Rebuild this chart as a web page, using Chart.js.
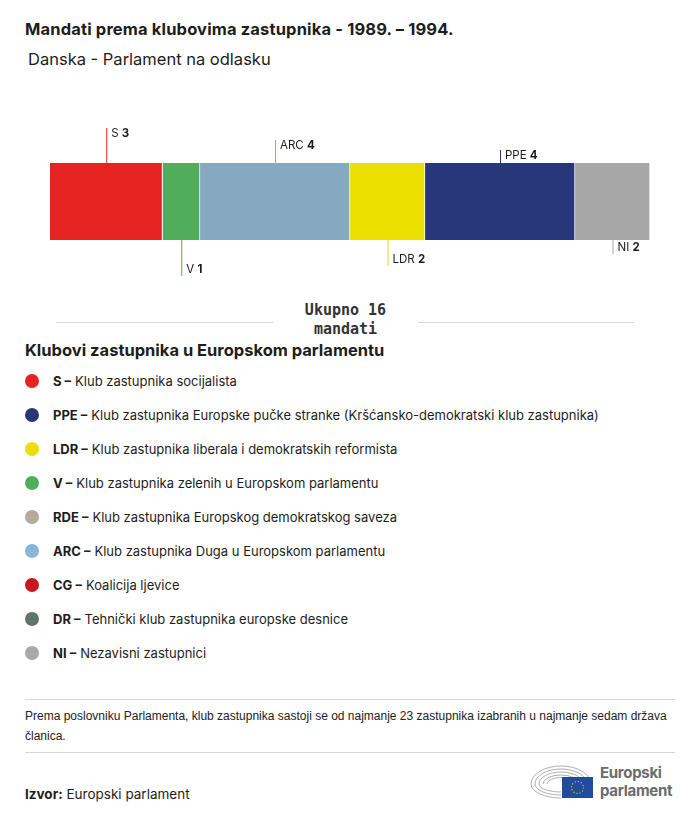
<!DOCTYPE html>
<html>
<head>
<meta charset="utf-8">
<script src="https://cdn.jsdelivr.net/npm/chart.js@4.4.0/dist/chart.umd.min.js"></script>
<style>
  body { margin: 0; background: #fff; font-family: "Inter", sans-serif; color: #1d1d1b; }
  #page { position: relative; width: 700px; height: 820px; overflow: hidden; }
  .abs { position: absolute; }
  #title { left: 25px; top: 19px; font-size: 16.5px; font-weight: 700; letter-spacing: 0.15px; }
  #subtitle { left: 28px; top: 49px; font-size: 16.5px; }
  #chartWrap { left: 0; top: 100px; width: 700px; height: 190px; }
  .rule { height: 1px; background: #d6d6d6; }
  #total { left: 263px; width: 165px; top: 301px; text-align: center; font-family: "DejaVu Sans Mono", monospace; font-weight: 700; font-size: 15px; line-height: 19px; color: #333; }
  #legTitle { left: 25px; top: 340px; font-size: 16.5px; font-weight: 700; }
  #legend { left: 25px; top: 373px; }
  .item { height: 34px; display: flex; align-items: flex-start; font-size: 13px; }
  .dot { width: 14px; height: 14px; border-radius: 50%; margin: 1px 14px 0 0; }
  .item b { margin-right: 4px; }
  #note { left: 25px; top: 706px; width: 650px; font-family: "Liberation Sans Narrow", "Liberation Sans", sans-serif; font-size: 12px; line-height: 20px; color: #222; }
  #source { left: 25px; top: 786px; font-size: 13.5px; }
</style>
</head>
<body>
<div id="page">
  <div id="title" class="abs">Mandati prema klubovima zastupnika - 1989. – 1994.</div>
  <div id="subtitle" class="abs">Danska - Parlament na odlasku</div>
  <div id="chartWrap" class="abs"><canvas id="bar"></canvas></div>
  <div class="abs rule" style="left:56px;top:322px;width:217px"></div>
  <div class="abs rule" style="left:418px;top:322px;width:216px"></div>
  <div id="total" class="abs"></div>
  <div id="legTitle" class="abs">Klubovi zastupnika u Europskom parlamentu</div>
  <div id="legend" class="abs"></div>
  <div class="abs rule" style="left:25px;top:699px;width:650px"></div>
  <div id="note" class="abs">Prema poslovniku Parlamenta, klub zastupnika sastoji se od najmanje 23 zastupnika izabranih u najmanje sedam država članica.</div>
  <div class="abs rule" style="left:25px;top:752px;width:650px"></div>
  <div id="source" class="abs"><b>Izvor:</b> Europski parlament</div>
  <svg class="abs" style="left:528px;top:760px" width="150" height="42" viewBox="0 0 150 42">
    <g fill="none" stroke="#9a9a9a" stroke-width="0.8">
      <path d="M3 24 A30 18 0 0 1 63 24"/>
      <path d="M7 24 A26 15 0 0 1 59 24"/>
      <path d="M11 24 A22 12 0 0 1 55 24"/>
      <path d="M15 24 A18 9 0 0 1 51 24"/>
      <path d="M19 24 A14 6.5 0 0 1 47 24"/>
      <path d="M3 24 A30 14 0 0 0 33 38"/>
      <path d="M7 24 A26 11 0 0 0 33 35"/>
      <path d="M11 24 A22 8 0 0 0 33 32"/>
    </g>
    <rect x="34" y="17" width="31" height="21" fill="#1f4d9c"/>
    <circle cx="49.5" cy="27.5" r="6" fill="none" stroke="#f2d600" stroke-width="1.2" stroke-dasharray="1 2.1"/>
    <text x="72" y="18" font-family="Inter" font-weight="700" font-size="15" letter-spacing="-0.3" fill="#6b6b6b">Europski</text>
    <text x="72" y="36" font-family="Inter" font-weight="700" font-size="15" letter-spacing="-0.3" fill="#6b6b6b">parlament</text>
  </svg>
</div>
<script>
// seats per group, in bar order
const groups = ['S', 'V', 'ARC', 'LDR', 'PPE', 'NI'];
const seats = [3, 1, 4, 2, 4, 2];
const barColors = ['#e52421', '#4fad5b', '#84a9c0', '#ebdf00', '#283779', '#a7a7a7'];

// callout: side (-1 above, 1 below) and line length in px
const calloutSide = [-1, 1, -1, 1, -1, 1];
const calloutLen = [35, 36, 23, 26, 13, 14];

// legend
const legendCodes = ['S', 'PPE', 'LDR', 'V', 'RDE', 'ARC', 'CG', 'DR', 'NI'];
const legendNames = [
  'Klub zastupnika socijalista',
  'Klub zastupnika Europske pučke stranke (Kršćansko-demokratski klub zastupnika)',
  'Klub zastupnika liberala i demokratskih reformista',
  'Klub zastupnika zelenih u Europskom parlamentu',
  'Klub zastupnika Europskog demokratskog saveza',
  'Klub zastupnika Duga u Europskom parlamentu',
  'Koalicija ljevice',
  'Tehnički klub zastupnika europske desnice',
  'Nezavisni zastupnici'
];
const legendColors = ['#e52421', '#283779', '#ebdf00', '#4fad5b', '#b4aa9c', '#8ab5d6', '#c8191f', '#5d7467', '#a9a9a9'];

const total = seats.reduce((a, b) => a + b, 0);
document.getElementById('total').innerHTML = 'Ukupno ' + total + '<br>mandati';

const legend = document.getElementById('legend');
legendCodes.forEach((c, i) => {
  const row = document.createElement('div');
  row.className = 'item';
  row.innerHTML = '<span class="dot" style="background:' + legendColors[i] + '"></span><span><b>' + c + ' –</b>' + legendNames[i] + '</span>';
  legend.appendChild(row);
});

// draw the label callouts off the bar elements
const callouts = {
  id: 'callouts',
  afterDatasetsDraw(chart) {
    const ctx = chart.ctx;
    ctx.save();
    chart.data.datasets.forEach((ds, i) => {
      const el = chart.getDatasetMeta(i).data[0];
      const p = el.getProps(['x', 'y', 'base', 'height'], true);
      const cx = (p.x + p.base) / 2;
      const edge = calloutSide[i] < 0 ? p.y - p.height / 2 : p.y + p.height / 2;
      const end = edge + calloutSide[i] * calloutLen[i];
      ctx.strokeStyle = barColors[i];
      ctx.lineWidth = 1;
      ctx.beginPath();
      ctx.moveTo(cx + 0.5, edge);
      ctx.lineTo(cx + 0.5, end);
      ctx.stroke();
      const ty = calloutSide[i] < 0 ? end + 6 : end - 6;
      ctx.fillStyle = '#1d1d1b';
      ctx.textBaseline = 'middle';
      ctx.font = '11.5px Inter';
      ctx.fillText(ds.label + ' ', cx + 5, ty);
      const w = ctx.measureText(ds.label + ' ').width;
      ctx.font = 'bold 11.5px Inter';
      ctx.fillText(String(ds.data[0]), cx + 5 + w, ty);
    });
    ctx.restore();
  }
};

new Chart(document.getElementById('bar'), {
  type: 'bar',
  data: {
    labels: ['Danska'],
    datasets: groups.map((g, i) => ({
      label: g,
      data: [seats[i]],
      backgroundColor: barColors[i],
      borderColor: '#ffffff',
      borderWidth: { right: 1, left: 0, top: 0, bottom: 0 },
      borderSkipped: false,
      barThickness: 77
    }))
  },
  options: {
    indexAxis: 'y',
    responsive: true,
    maintainAspectRatio: false,
    animation: false,
    layout: { padding: { left: 50, right: 50, top: 13, bottom: 0 } },
    plugins: { legend: { display: false }, tooltip: { enabled: false } },
    scales: {
      x: { stacked: true, min: 0, max: total, display: false },
      y: { stacked: true, display: false }
    }
  },
  plugins: [callouts]
});
</script>
</body>
</html>
